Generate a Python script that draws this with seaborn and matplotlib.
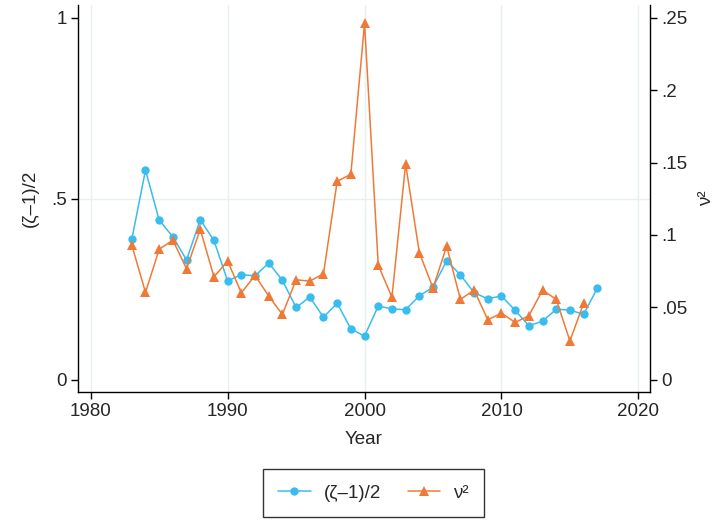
import matplotlib
matplotlib.use("Agg")
import matplotlib.pyplot as plt
import seaborn as sns
import pandas as pd
from matplotlib.lines import Line2D

years = list(range(1983, 2018))
zeta = [0.388, 0.579, 0.441, 0.395, 0.331, 0.442, 0.385, 0.273, 0.291, 0.287,
        0.323, 0.275, 0.200, 0.229, 0.173, 0.212, 0.141, 0.121, 0.204, 0.196,
        0.194, 0.232, 0.256, 0.329, 0.290, 0.241, 0.224, 0.232, 0.192, 0.150,
        0.162, 0.195, 0.193, 0.181, 0.253]
nu_years = list(range(1983, 2017))
nu2 = [0.093, 0.0604, 0.0902, 0.0964, 0.0767, 0.104, 0.0711, 0.0820, 0.0601, 0.0721,
       0.0579, 0.0452, 0.0691, 0.0682, 0.0732, 0.137, 0.1419, 0.246, 0.0792, 0.0570,
       0.149, 0.0879, 0.0634, 0.0923, 0.0556, 0.062, 0.0415, 0.0461, 0.0397, 0.0443,
       0.062, 0.0556, 0.0269, 0.0528]

left_ticks = [0, 0.5, 1]
left_labels = ["0", ".5", "1"]
right_ticks = [0, 0.05, 0.1, 0.15, 0.2, 0.25]
right_labels = ["0", ".05", ".1", ".15", ".2", ".25"]
x_ticks = [1980, 1990, 2000, 2010, 2020]

sns.set_style("white")
plt.rcParams['font.family'] = ['Liberation Sans', 'DejaVu Sans']
plt.rcParams['font.size'] = 13

blue = "#38BDEE"
orange = "#EF7A37"
gridc = "#E8F0F2"

df1 = pd.DataFrame({"Year": years, "zeta": zeta})
df2 = pd.DataFrame({"Year": nu_years, "nu2": nu2})

fig = plt.figure(figsize=(7.19, 5.2), dpi=100)
ax = fig.add_axes([78/719, 1-391.7/520, (650-78)/719, (391.7-5)/520])
ax2 = ax.twinx()

sns.lineplot(data=df1, x="Year", y="zeta", ax=ax, color=blue, marker="o",
             markersize=6, markeredgewidth=0, linewidth=1.1, zorder=3)
sns.lineplot(data=df2, x="Year", y="nu2", ax=ax2, color=orange, marker="^",
             markersize=7, markeredgewidth=0, linewidth=1.1, zorder=3)

ax.set_xlim(1979.07, 2020.85)
ax.set_ylim(-0.0323, 1.0345)
ax2.set_ylim(-0.0323*0.25, 1.0345*0.25)

ax.set_xticks(x_ticks)
ax.set_xticklabels([str(t) for t in x_ticks])
ax.set_yticks(left_ticks)
ax.set_yticklabels(left_labels)
ax2.set_yticks(right_ticks)
ax2.set_yticklabels(right_labels)

for a in (ax, ax2):
    a.spines['top'].set_visible(False)
    for s in ('left', 'right', 'bottom'):
        a.spines[s].set_color('black')
        a.spines[s].set_linewidth(1.0)
    a.tick_params(axis='both', direction='out', length=5, width=1, color='black',
                  labelsize=13.5, pad=3)
    a.grid(False)
ax.spines['right'].set_visible(False)
ax2.spines['left'].set_visible(False)
ax2.spines['bottom'].set_visible(False)
ax.tick_params(axis='y', left=True)
ax.tick_params(axis='x', bottom=True)
ax2.tick_params(axis='y', right=True)

# grid lines
for xv in x_ticks:
    ax.axvline(xv, color=gridc, linewidth=1.0, zorder=0)
ax.axhline(0.5, color=gridc, linewidth=1.0, zorder=0)

ax.set_xlabel("Year", fontsize=13.5, labelpad=8)
ax.set_ylabel("(ζ–1)/2", fontsize=13.5, labelpad=9)
ax2.set_ylabel("ν²", fontsize=13.5, labelpad=8)

handles = [Line2D([], [], color=blue, marker="o", markersize=6, markeredgewidth=0, linewidth=1.1),
           Line2D([], [], color=orange, marker="^", markersize=7, markeredgewidth=0, linewidth=1.1)]
leg = fig.legend(handles, ["(ζ–1)/2", "ν²"], loc="center", bbox_to_anchor=(373.5/719, 1-493/520),
                 ncol=2, frameon=True, fancybox=False, fontsize=13.5, handlelength=1.75,
                 handletextpad=0.7, columnspacing=1.4, borderpad=0.8, edgecolor='black')
leg.get_frame().set_linewidth(1.0)
if ax.get_legend():
    ax.get_legend().remove()
if ax2.get_legend():
    ax2.get_legend().remove()

fig.savefig("out.png", dpi=100, facecolor="white")
